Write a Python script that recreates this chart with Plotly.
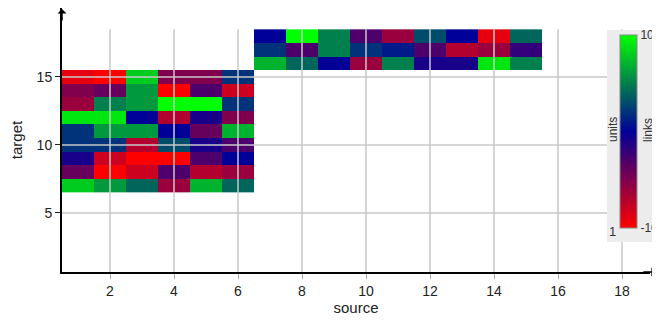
import plotly.graph_objects as go

# ---- data ----
sources = list(range(1, 16))
targets = list(range(7, 19))

block1_sources = [1, 2, 3, 4, 5, 6]
block1_targets = [7, 8, 9, 10, 11, 12, 13, 14, 15]
block1_values = [
    [8, 6, 4, -6, 7, 4],
    [-4, -10, -8, -3, -7, -6],
    [-1, -8, -10, -10, -3, 0],
    [2, 2, -7, 3, -1, -3],
    [2, 6, 6, 0, -4, 7],
    [9, 9, 0, -7, -1, -5],
    [-6, 5, 6, 10, 10, 2],
    [-5, -4, 6, -10, -3, -8],
    [-9, -10, 8, -5, -5, 2],
]

block2_sources = [7, 8, 9, 10, 11, 12, 13, 14, 15]
block2_targets = [16, 17, 18]
block2_values = [
    [7, 4, 0, -6, 5, -1, -1, 9, 5],
    [2, -3, 5, 2, 1, -3, -7, -6, -2],
    [0, 10, 5, -3, -6, 3, 0, -9, 4],
]

x_ticks = [2, 4, 6, 8, 10, 12, 14, 16, 18]
y_ticks = [5, 10, 15]

# ---- build matrix ----
z = [[None for _ in sources] for _ in targets]
for bs, bt, bv in [(block1_sources, block1_targets, block1_values),
                   (block2_sources, block2_targets, block2_values)]:
    for i, t in enumerate(bt):
        for j, s in enumerate(bs):
            z[targets.index(t)][sources.index(s)] = bv[i][j]

colorscale = [[0.0, "#ff0000"], [0.5, "#000099"], [1.0, "#00ff00"]]

# plot area: 588 x 264 px, page offset 8px (body margin)
PW, PH = 588.0, 264.0
X0, YB = 62.0, 272.0

def px(x):
    return (x - X0) / PW

def py(y):
    return (YB - y) / PH

fig = go.Figure()
fig.add_trace(go.Heatmap(
    x=sources, y=targets, z=z, zmin=-10, zmax=10,
    colorscale=colorscale, xgap=0, ygap=0,
    colorbar=dict(
        x=px(620), xanchor="left", xpad=0,
        y=py(228), yanchor="bottom", ypad=0,
        len=193, lenmode="pixels", thickness=17, thicknessmode="pixels",
        outlinewidth=1, outlinecolor="#888888",
        bgcolor="rgba(0,0,0,0)", borderwidth=0,
        tickvals=[-10, 10], ticktext=["-10", "10"], ticks="",
        tickfont=dict(family="Liberation Sans", size=12, color="#333333"),
    ),
))

grid_color = "#c8c8c8"
shapes = []
for xv in x_ticks:
    shapes.append(dict(type="line", xref="x", yref="y", x0=xv, x1=xv, y0=0.66, y1=18.5,
                       line=dict(color=grid_color, width=1.5), layer="above"))
for yv in y_ticks:
    shapes.append(dict(type="line", xref="paper", yref="y", x0=0, x1=1, y0=yv, y1=yv,
                       line=dict(color=grid_color, width=1.5), layer="above"))
# legend panel background
shapes.append(dict(type="rect", xref="paper", yref="paper",
                   x0=px(607), x1=px(656), y0=py(242), y1=py(30),
                   fillcolor="#ececec", line=dict(width=0), layer="above"))

font_small = dict(family="Liberation Sans", size=12, color="#333333")
annotations = [
    dict(text="units", xref="paper", yref="paper", x=px(613), y=py(130),
         xanchor="center", yanchor="middle",
         showarrow=False, textangle=-90, font=font_small),
    dict(text="links", xref="paper", yref="paper", x=px(648), y=py(130),
         xanchor="center", yanchor="middle",
         showarrow=False, textangle=-90, font=font_small),
    dict(text="1", xref="paper", yref="paper", x=px(612), y=py(231),
         xanchor="center", yanchor="middle",
         showarrow=False, font=dict(family="Liberation Sans", size=13, color="#333333")),
    dict(text="", xref="paper", yref="paper", x=0, y=1, ax=0, ay=14, showarrow=True,
         arrowhead=1, arrowsize=1, arrowwidth=1.5, arrowcolor="black"),
    dict(text="", xref="paper", yref="paper", x=1.01, y=0, ax=-14, ay=0, showarrow=True,
         arrowhead=1, arrowsize=1, arrowwidth=1.5, arrowcolor="black"),
]

tick_font = dict(family="Liberation Sans", size=14, color="#222222")
fig.update_layout(
    width=652, height=312, autosize=False,
    margin=dict(l=54, r=10, t=0, b=48, pad=0, autoexpand=False),
    paper_bgcolor="white", plot_bgcolor="white",
    shapes=shapes, annotations=annotations,
    xaxis=dict(range=[0.5, 18.875], tickvals=x_ticks, showgrid=False, zeroline=False,
               showline=True, linecolor="black", linewidth=2, automargin=False,
               ticks="outside", ticklen=5, tickcolor="#aaaaaa", tickfont=tick_font,
               title=dict(text="source", font=dict(family="Liberation Sans", size=15, color="#222222"),
                          standoff=2)),
    yaxis=dict(range=[0.66, 20.07], tickvals=y_ticks, showgrid=False, zeroline=False,
               showline=True, linecolor="black", linewidth=2, automargin=False,
               ticks="outside", ticklen=5, tickcolor="#222222", tickfont=tick_font,
               title=dict(text="target", font=dict(family="Liberation Sans", size=15, color="#222222"),
                          standoff=10)),
)

fig.write_html("out.html")
